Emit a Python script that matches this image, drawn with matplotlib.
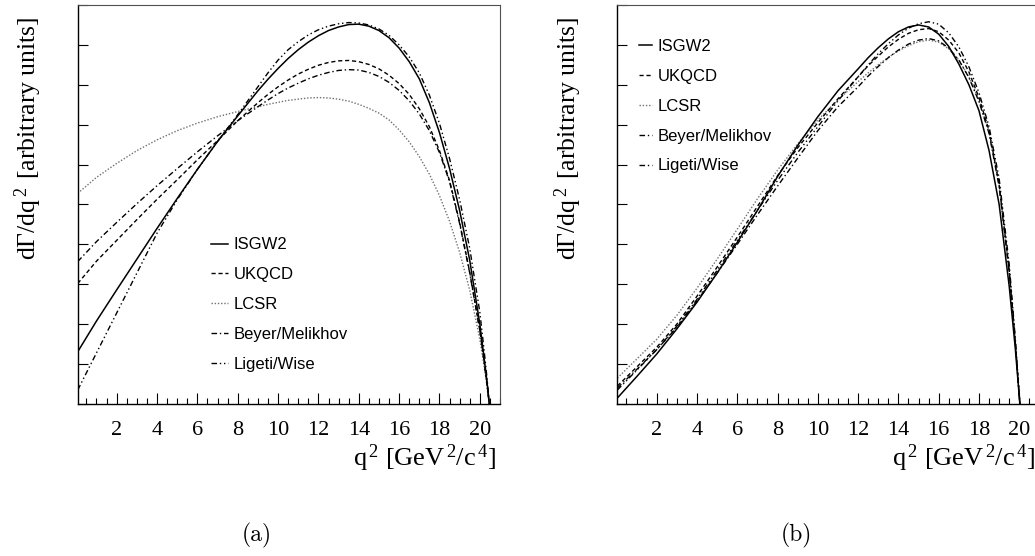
import matplotlib
matplotlib.use('Agg')
import matplotlib.pyplot as plt
from matplotlib.ticker import MultipleLocator, NullFormatter

plt.rcParams['mathtext.fontset'] = 'custom'
plt.rcParams['mathtext.rm'] = 'Liberation Serif'
plt.rcParams['mathtext.it'] = 'Liberation Serif:italic'
plt.rcParams['mathtext.default'] = 'regular'

# dGamma/dq2 spectra, panel (a)
q2_a = [0.07, 1, 2, 3, 4, 5, 6, 7, 8, 9, 9.5, 10, 10.5, 11, 11.5, 12, 12.5,
        13, 13.5, 14, 14.5, 15, 15.5, 16, 16.5, 17, 17.5, 18, 18.5, 19, 19.5,
        20, 20.2, 20.35, 20.47]
isgw2_a = [1.31, 2.08, 2.86, 3.63, 4.40, 5.15, 5.88, 6.58, 7.22, 7.85, 8.14,
           8.41, 8.66, 8.88, 9.07, 9.23, 9.36, 9.45, 9.51, 9.52, 9.47, 9.36,
           9.18, 8.92, 8.58, 8.15, 7.55, 6.80, 5.90, 4.85, 3.60, 2.00, 1.20,
           0.58, 0.0]
ukqcd_a = [3.02, 3.58, 4.10, 4.62, 5.13, 5.62, 6.12, 6.60, 7.10, 7.55, 7.76,
           7.95, 8.12, 8.27, 8.39, 8.49, 8.56, 8.60, 8.61, 8.58, 8.51, 8.40,
           8.24, 8.03, 7.76, 7.40, 6.95, 6.35, 5.60, 4.55, 3.30, 1.85, 1.12,
           0.54, 0.0]
lcsr_a = [5.28, 5.68, 6.03, 6.35, 6.62, 6.85, 7.04, 7.20, 7.33, 7.45, 7.51,
          7.56, 7.61, 7.64, 7.67, 7.68, 7.67, 7.64, 7.59, 7.51, 7.41, 7.29,
          7.12, 6.87, 6.57, 6.20, 5.76, 5.22, 4.58, 3.80, 2.85, 1.62, 0.98,
          0.47, 0.0]
beyer_a = [3.57, 4.07, 4.55, 5.02, 5.47, 5.90, 6.32, 6.72, 7.10, 7.45, 7.62,
           7.78, 7.92, 8.04, 8.15, 8.24, 8.31, 8.36, 8.38, 8.37, 8.31, 8.21,
           8.06, 7.86, 7.60, 7.27, 6.85, 6.30, 5.57, 4.52, 3.28, 1.84, 1.11,
           0.53, 0.0]
ligeti_a = [0.35, 1.28, 2.28, 3.28, 4.28, 5.12, 5.88, 6.58, 7.25, 7.95, 8.30,
            8.62, 8.88, 9.08, 9.25, 9.38, 9.47, 9.53, 9.56, 9.55, 9.50, 9.40,
            9.24, 9.00, 8.70, 8.30, 7.74, 7.03, 6.15, 5.12, 3.90, 2.30, 1.40,
            0.68, 0.0]

# panel (b)
q2_b = [0.05, 1, 2, 3, 4, 5, 6, 7, 8, 9, 10, 11, 12, 12.5, 13, 13.5, 14,
        14.5, 15, 15.5, 16, 16.5, 17, 17.5, 18, 18.5, 19, 19.5, 19.8, 20.03]
isgw2_b = [0.15, 0.68, 1.25, 1.88, 2.55, 3.28, 4.05, 4.85, 5.70, 6.48, 7.20,
           7.85, 8.40, 8.68, 8.93, 9.15, 9.33, 9.45, 9.50, 9.45, 9.27, 8.96,
           8.52, 8.00, 7.35, 6.35, 5.00, 2.95, 1.40, 0.0]
ukqcd_b = [0.45, 0.92, 1.42, 2.00, 2.70, 3.43, 4.18, 4.95, 5.72, 6.42, 7.05,
           7.65, 8.20, 8.48, 8.72, 8.95, 9.14, 9.29, 9.38, 9.41, 9.33, 9.12,
           8.80, 8.32, 7.68, 6.85, 5.50, 3.35, 1.58, 0.0]
lcsr_b = [0.65, 1.12, 1.62, 2.22, 2.90, 3.63, 4.38, 5.14, 5.86, 6.52, 7.12,
          7.62, 8.08, 8.30, 8.50, 8.69, 8.85, 8.98, 9.08, 9.12, 9.07, 8.90,
          8.62, 8.20, 7.62, 6.82, 5.50, 3.35, 1.58, 0.0]
beyer_b = [0.40, 0.86, 1.36, 1.92, 2.58, 3.28, 4.00, 4.74, 5.46, 6.16, 6.85,
           7.45, 7.95, 8.22, 8.46, 8.68, 8.87, 9.02, 9.12, 9.16, 9.10, 8.92,
           8.62, 8.18, 7.58, 6.78, 5.45, 3.30, 1.55, 0.0]
ligeti_b = [0.35, 0.84, 1.36, 1.95, 2.62, 3.35, 4.10, 4.85, 5.60, 6.30, 6.95,
            7.60, 8.20, 8.50, 8.78, 9.03, 9.25, 9.42, 9.53, 9.58, 9.52, 9.30,
            8.95, 8.45, 7.80, 6.95, 5.65, 3.50, 1.65, 0.0]

model_names = ['ISGW2', 'UKQCD', 'LCSR', 'Beyer/Melikhov', 'Ligeti/Wise']
styles = {
    'ISGW2': dict(color='black', ls='-', lw=1.1),
    'UKQCD': dict(color='black', ls=(0, (3, 2)), lw=1.0),
    'LCSR': dict(color='#707070', ls=(0, (1, 1.3)), lw=1.0),
    'Beyer/Melikhov': dict(color='black', ls=(0, (4, 2, 1, 2)), lw=1.0),
    'Ligeti/Wise': dict(color='black', ls=(0, (4, 2, 1, 2, 1, 2)), lw=1.0),
}


def draw_panel(ax, q2, curves, xlim, leg_anchor, handlelen, tag):
    lines = {}
    for name in ['LCSR', 'UKQCD', 'Beyer/Melikhov', 'Ligeti/Wise', 'ISGW2']:
        ln, = ax.plot(q2, curves[name], label=name, **styles[name])
        lines[name] = ln
    ax.set_xlim(*xlim)
    ax.set_ylim(0, 10)

    ax.xaxis.set_major_locator(MultipleLocator(2))
    ax.xaxis.set_minor_locator(MultipleLocator(0.5))
    ax.yaxis.set_major_locator(MultipleLocator(1))
    ax.yaxis.set_major_formatter(NullFormatter())
    ax.tick_params(axis='x', which='major', direction='in', length=8,
                   width=0.8, pad=12, labelsize=16, top=False)
    ax.tick_params(axis='x', which='minor', direction='in', length=4.3,
                   width=0.8, top=False)
    ax.tick_params(axis='y', which='major', direction='in', length=7,
                   width=0.8, right=False)
    for lab in ax.get_xticklabels():
        lab.set_family('Liberation Serif')
    for side in ['left', 'bottom']:
        ax.spines[side].set_linewidth(1.0)
    for side in ['top', 'right']:
        ax.spines[side].set_linewidth(0.8)
        ax.spines[side].set_color('#505050')

    ax.text(0.99, -0.155, r'q$^{\,2}$ [GeV$^{\,2}$/c$^{\,4}$]',
            transform=ax.transAxes, ha='right', va='baseline', fontsize=19,
            family='Liberation Serif')
    ax.text(-0.116, 0.667, r'd$\Gamma$/dq$^{\,2\,}$ [arbitrary units]',
            transform=ax.transAxes, rotation=90, ha='center', va='center',
            fontsize=18.5, family='Liberation Serif')
    ax.text(0.425, -0.33, tag, transform=ax.transAxes, ha='center',
            va='center', fontsize=17, family='cmr10')

    ax.legend([lines[n] for n in model_names], model_names,
              loc='upper left', bbox_to_anchor=leg_anchor, frameon=False,
              borderpad=0, borderaxespad=0, handlelength=handlelen,
              handletextpad=0.35, labelspacing=0.89,
              prop={'family': 'Liberation Sans', 'size': 12})


fig = plt.figure(figsize=(10.35, 5.56), dpi=100)
ax_a = fig.add_axes([0.0751, 0.2734, 0.408, 0.7176])
ax_b = fig.add_axes([0.5959, 0.2734, 0.408, 0.7176])

draw_panel(ax_a, q2_a,
           {'ISGW2': isgw2_a, 'UKQCD': ukqcd_a, 'LCSR': lcsr_a,
            'Beyer/Melikhov': beyer_a, 'Ligeti/Wise': ligeti_a},
           (0.07, 21.0), (0.3157, 0.4173), 1.0, '(a)')
draw_panel(ax_b, q2_b,
           {'ISGW2': isgw2_b, 'UKQCD': ukqcd_b, 'LCSR': lcsr_b,
            'Beyer/Melikhov': beyer_b, 'Ligeti/Wise': ligeti_b},
           (0.02, 20.98), (0.0528, 0.9145), 0.75, '(b)')

fig.savefig('out.png', dpi=100, facecolor='white')
